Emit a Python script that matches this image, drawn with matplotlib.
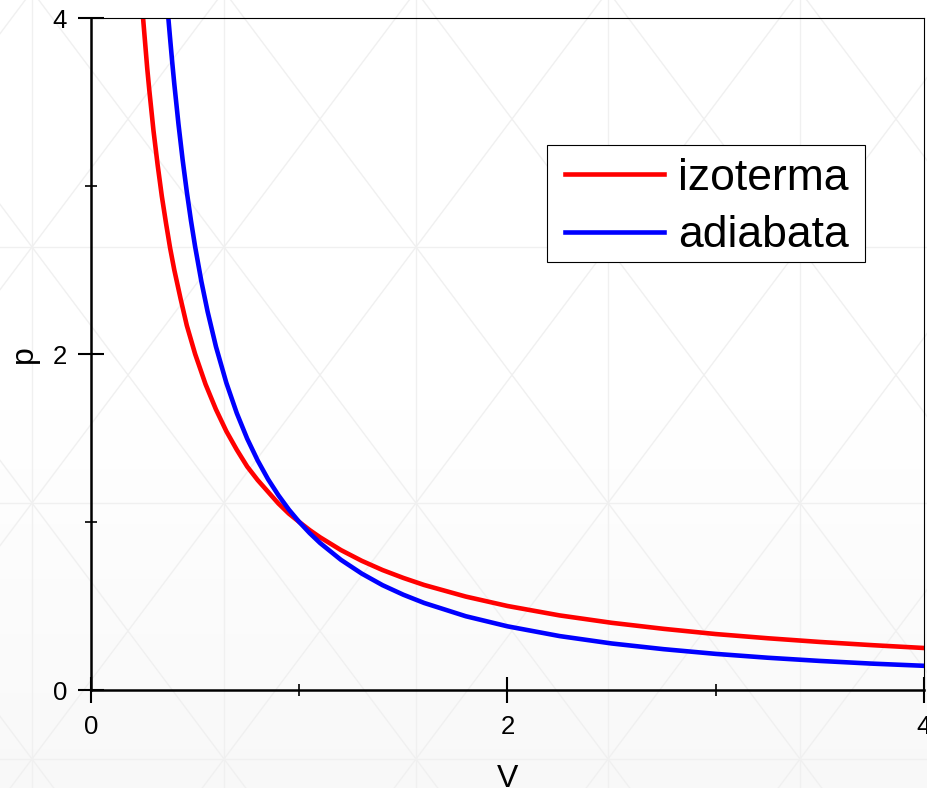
import numpy as np
import matplotlib
matplotlib.use('Agg')
import matplotlib.pyplot as plt
from matplotlib.patches import Rectangle

# values
V_iso = [0.25, 0.26, 0.27, 0.28, 0.29, 0.3, 0.32, 0.34, 0.36, 0.38, 0.4, 0.43, 0.46, 0.5,
         0.55, 0.6, 0.65, 0.7, 0.75, 0.8, 0.85, 0.9, 0.95, 1.0, 1.05, 1.1, 1.2, 1.3, 1.4,
         1.5, 1.6, 1.8, 2.0, 2.25, 2.5, 2.75, 3.0, 3.25, 3.5, 3.75, 4.0]
p_iso = [4.0, 3.85, 3.70, 3.57, 3.45, 3.33, 3.125, 2.94, 2.78, 2.63, 2.5, 2.33, 2.17, 2.0,
         1.82, 1.67, 1.54, 1.43, 1.33, 1.25, 1.18, 1.11, 1.05, 1.0, 0.952, 0.909, 0.833, 0.769, 0.714,
         0.667, 0.625, 0.556, 0.5, 0.444, 0.4, 0.364, 0.333, 0.308, 0.286, 0.267, 0.25]

V_adi = [0.37, 0.38, 0.39, 0.4, 0.42, 0.44, 0.46, 0.48, 0.5, 0.53, 0.56, 0.6, 0.65, 0.7,
         0.75, 0.8, 0.85, 0.9, 0.95, 1.0, 1.05, 1.1, 1.2, 1.3, 1.4, 1.5, 1.6, 1.8, 2.0,
         2.25, 2.5, 2.75, 3.0, 3.25, 3.5, 3.75, 4.0]
p_adi = [4.02, 3.876, 3.737, 3.607, 3.369, 3.156, 2.966, 2.794, 2.639, 2.432, 2.252, 2.044, 1.828, 1.648,
         1.496, 1.367, 1.255, 1.159, 1.074, 1.0, 0.934, 0.875, 0.775, 0.693, 0.624, 0.567, 0.518, 0.439, 0.379,
         0.321, 0.277, 0.243, 0.215, 0.192, 0.173, 0.157, 0.144]

labels = ['izoterma', 'adiabata']
major_ticks = [0, 2, 4]
minor_ticks = [1, 3]

plt.rcParams['font.family'] = ['Liberation Sans', 'DejaVu Sans']

W, H = 928, 788
fig = plt.figure(figsize=(W / 100, H / 100), dpi=100)

# decorative background: soft gradient + faint triangle lattice
bg = fig.add_axes([0, 0, 1, 1], zorder=-1)
bg.set_xlim(0, W)
bg.set_ylim(H, 0)
bg.axis('off')
grad = np.linspace(0, 1, 200)[:, None]
grad = np.clip((grad - 0.45) / 0.55, 0, 1)
bg.imshow(1 - 0.03 * grad, cmap='gray', vmin=0, vmax=1, aspect='auto',
          extent=[0, W, H, 0], zorder=0)
lc = '#f0f0f0'
for x in range(32, W, 192):
    bg.axvline(x, color=lc, lw=1, zorder=1)
for y in range(-9, H, 256):
    bg.axhline(y, color=lc, lw=1, zorder=1)
xs = np.array([0, W])
for n in range(-8, 8):
    bg.plot(xs, 4 / 3 * (xs - 32) + 247 + 256 * n, color=lc, lw=1, zorder=1)
    bg.plot(xs, -4 / 3 * (xs - 32) + 247 + 256 * n, color=lc, lw=1, zorder=1)

ax = fig.add_axes([91 / W, 1 - 690 / H, (924 - 91) / W, (690 - 18) / H])
ax.set_facecolor('none')
ax.plot(V_iso, p_iso, color='#ff0000', lw=3.3, label=labels[0])
ax.plot(V_adi, p_adi, color='#0000ff', lw=3.3, label=labels[1])
ax.set_xlim(0, 4)
ax.set_ylim(0, 4)

ax.set_xticks(major_ticks)
ax.set_yticks(major_ticks)
ax.set_xticks(minor_ticks, minor=True)
ax.set_yticks(minor_ticks, minor=True)
ax.tick_params(which='major', direction='inout', length=19.4, width=1.5, labelsize=18.5)
ax.tick_params(which='minor', direction='inout', length=9, width=1.2)
ax.tick_params(axis='y', which='major', pad=7.5)
ax.tick_params(axis='x', which='major', pad=8)

for s in ['left', 'bottom']:
    ax.spines[s].set_linewidth(1.8)
for s in ['top', 'right']:
    ax.spines[s].set_linewidth(0.8)

ax.set_xlabel('V', fontsize=23, labelpad=18)
ax.set_ylabel('p', fontsize=23, labelpad=10)

# legend box drawn by hand so its size matches the reference
box = Rectangle((547 / W, 1 - 262 / H), (865 - 547) / W, (262 - 145) / H,
                transform=fig.transFigure, facecolor='white', edgecolor='black',
                lw=0.8, zorder=4)
ax.add_patch(box)
box.set_clip_on(False)
leg = ax.legend(loc='upper right', bbox_to_anchor=(867 / W, 1 - 140 / H),
                bbox_transform=fig.transFigure, borderaxespad=0, fontsize=32,
                frameon=False, handlelength=2.23, handletextpad=0.32,
                borderpad=0.4, labelspacing=0.37)
leg.set_zorder(5)

fig.savefig('out.png', dpi=100)
